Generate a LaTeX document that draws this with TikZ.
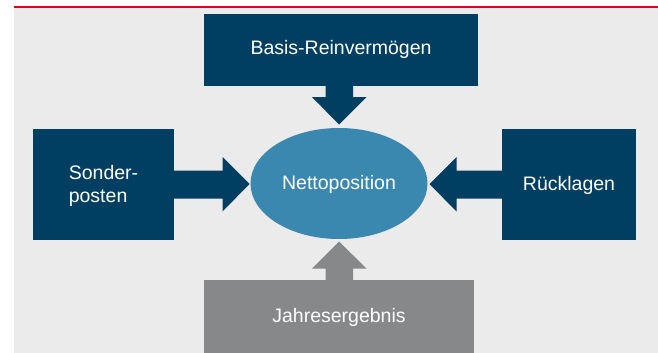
\documentclass[tikz,border=0pt]{standalone}
\usepackage{fontspec}
\setmainfont{Liberation Sans}
\definecolor{navy}{RGB}{0,63,98}
\definecolor{ellblue}{RGB}{58,135,176}
\definecolor{boxgray}{RGB}{135,136,138}
\definecolor{bggray}{RGB}{235,235,235}
\definecolor{topred}{RGB}{226,0,26}
\begin{document}
\begin{tikzpicture}[x=1pt,y=-1pt,
  lbl/.style={text=white,font=\fontsize{19.5}{23}\selectfont},
  navybox/.style={fill=navy,draw=none},
  graybox/.style={fill=boxgray,draw=none}]
\useasboundingbox (0,0) rectangle (658,353);
\fill[bggray] (14,8) rectangle (658,353);
\fill[topred] (14,5.8) rectangle (658,7.8);
% boxes
\fill[navybox] (204,14) rectangle (478,86);
\fill[navybox] (33,129) rectangle (174,240);
\fill[navybox] (502,129) rectangle (636,240);
\fill[graybox] (204,280) rectangle (474,353);
% arrows
\fill[navy] (325.5,85) -- (353,85) -- (353,97) -- (366.5,97) -- (339,124.5) -- (312,97) -- (325.5,97) -- cycle;
\fill[navy] (173,170.5) -- (222.5,170.5) -- (222.5,157) -- (249.5,184) -- (222.5,211.5) -- (222.5,198.5) -- (173,198.5) -- cycle;
\fill[navy] (503,170.5) -- (456.5,170.5) -- (456.5,157) -- (429.5,184) -- (456.5,211.5) -- (456.5,198.5) -- (503,198.5) -- cycle;
\fill[boxgray] (325.5,281) -- (353,281) -- (353,268.5) -- (366.5,268.5) -- (339,241.5) -- (312,268.5) -- (325.5,268.5) -- cycle;
% ellipse
\fill[ellblue] (339,183.5) ellipse [x radius=88.5, y radius=55.5];
% labels
\node[lbl] (basis) at (341,49) {Basis-Reinvermögen};
\node[lbl,align=left] (sonder) at (103.5,186) {Sonder-\\posten};
\node[lbl] (rueck) at (569,185) {Rücklagen};
\node[lbl] (netto) at (339,184) {Nettoposition};
\node[lbl] (jahr) at (339,317) {Jahresergebnis};
\end{tikzpicture}
\end{document}
